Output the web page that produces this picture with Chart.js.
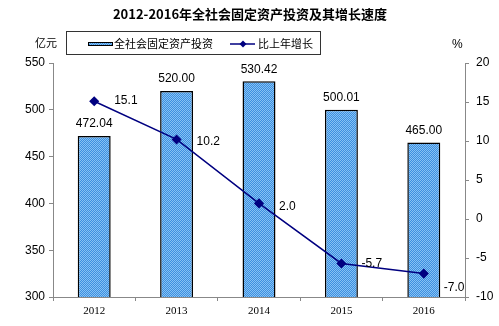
<!DOCTYPE html>
<html>
<head>
<meta charset="utf-8">
<script src="https://cdn.jsdelivr.net/npm/chart.js@4/dist/chart.umd.min.js"></script>
<style>
  html, body { margin: 0; padding: 0; background: #fff; }
  #wrap { width: 499px; height: 326px; }
</style>
</head>
<body>
<div id="wrap"><canvas id="investChart" width="499" height="326"></canvas></div>
<script>
let years = ["2012", "2013", "2014", "2015", "2016"];
let investment = [472.04, 520.00, 530.42, 500.01, 465.00];
let growth = [15.1, 10.2, 2.0, -5.7, -7.0];
let leftTicks = [300, 350, 400, 450, 500, 550];
let rightTicks = [-10, -5, 0, 5, 10, 15, 20];

let cjk = "'Noto Sans CJK SC', 'Liberation Sans', sans-serif";
let sans = "'Liberation Sans', Arial, sans-serif";
let serif = "'Liberation Serif', 'Times New Roman', serif";

// dithered blue fill for the bars
function barPattern() {
    let c = document.createElement("canvas");
    c.width = 2;
    c.height = 2;
    let g = c.getContext("2d");
    g.fillStyle = "#3d8fe0";
    g.fillRect(0, 0, 2, 2);
    g.fillStyle = "#86c2f4";
    g.fillRect(0, 0, 1, 1);
    g.fillRect(1, 1, 1, 1);
    return g.createPattern(c, "repeat");
}

let ctx = document.getElementById("investChart").getContext("2d");
let fill = barPattern();

// title, unit captions, boxed legend and value labels
let decorations = {
    id: "decorations",
    afterDatasetsDraw(chart) {
        let c = chart.ctx;
        c.save();
        c.fillStyle = "#000";
        c.textBaseline = "middle";

        c.font = "bold 13px " + cjk;
        c.textAlign = "center";
        c.fillText("2012-2016年全社会固定资产投资及其增长速度", 250, 14);

        c.font = "11px " + cjk;
        c.textAlign = "left";
        c.fillText("亿元", 35, 43);
        c.font = "12px " + sans;
        c.fillText("%", 452, 45);

        // legend
        c.strokeStyle = "#333";
        c.lineWidth = 1;
        c.strokeRect(66.5, 31.5, 254, 23);
        c.fillStyle = fill;
        c.fillRect(88, 42, 25, 4);
        c.strokeStyle = "#000";
        c.strokeRect(88.5, 42.5, 24, 3);
        c.fillStyle = "#000";
        c.font = "11px " + cjk;
        c.fillText("全社会固定资产投资", 114, 44);
        c.strokeStyle = "#000080";
        c.lineWidth = 1.5;
        c.beginPath();
        c.moveTo(230, 44);
        c.lineTo(255, 44);
        c.stroke();
        c.fillStyle = "#000080";
        c.beginPath();
        c.moveTo(243, 40.5);
        c.lineTo(246.5, 44);
        c.lineTo(243, 47.5);
        c.lineTo(239.5, 44);
        c.closePath();
        c.fill();
        c.fillStyle = "#000";
        c.fillText("比上年增长", 258, 44);

        // bar values
        c.font = "12px " + sans;
        c.textAlign = "center";
        chart.getDatasetMeta(0).data.forEach(function (bar, i) {
            c.fillText(investment[i].toFixed(2), bar.x, bar.y - 12);
        });

        // growth values
        c.textAlign = "left";
        let dy = [-1, 2, 3, 0, 14];
        chart.getDatasetMeta(1).data.forEach(function (pt, i) {
            c.fillText(growth[i].toFixed(1), pt.x + 20, pt.y + dy[i]);
        });
        c.restore();
    }
};

new Chart(ctx, {
    data: {
        labels: years,
        datasets: [
            {
                type: "bar",
                label: "全社会固定资产投资",
                data: investment,
                yAxisID: "y",
                backgroundColor: fill,
                borderColor: "#000",
                borderWidth: 1.5,
                barPercentage: 0.4,
                categoryPercentage: 1,
                order: 2
            },
            {
                type: "line",
                label: "比上年增长",
                data: growth,
                yAxisID: "y1",
                borderColor: "#000080",
                backgroundColor: "#000080",
                borderWidth: 1.5,
                pointStyle: "rectRot",
                pointRadius: 4,
                tension: 0,
                order: 1
            }
        ]
    },
    options: {
        responsive: false,
        animation: false,
        layout: { padding: { top: 63, left: 0, right: 0, bottom: 0 } },
        plugins: {
            legend: { display: false },
            tooltip: { enabled: false }
        },
        scales: {
            x: {
                grid: { display: true, drawOnChartArea: false, offset: true, tickLength: 4, color: "#888" },
                border: { color: "#888" },
                ticks: { color: "#000", font: { family: serif, size: 11 }, padding: 4 },
                afterFit: function (s) { s.height = 29; }
            },
            y: {
                position: "left",
                min: 300,
                max: 550,
                afterBuildTicks: function (s) { s.ticks = leftTicks.map(v => ({ value: v })); },
                grid: { drawOnChartArea: false, tickLength: 4, color: "#888" },
                border: { color: "#888" },
                ticks: { color: "#000", font: { family: sans, size: 12 }, padding: 4 },
                afterFit: function (s) { s.width = 53; }
            },
            y1: {
                position: "right",
                min: -10,
                max: 20,
                afterBuildTicks: function (s) { s.ticks = rightTicks.map(v => ({ value: v })); },
                grid: { drawOnChartArea: false, tickLength: 4, color: "#888" },
                border: { color: "#888" },
                ticks: { color: "#000", font: { family: sans, size: 12 }, padding: 7 },
                afterFit: function (s) { s.width = 34; }
            }
        }
    },
    plugins: [decorations]
});
</script>
</body>
</html>
